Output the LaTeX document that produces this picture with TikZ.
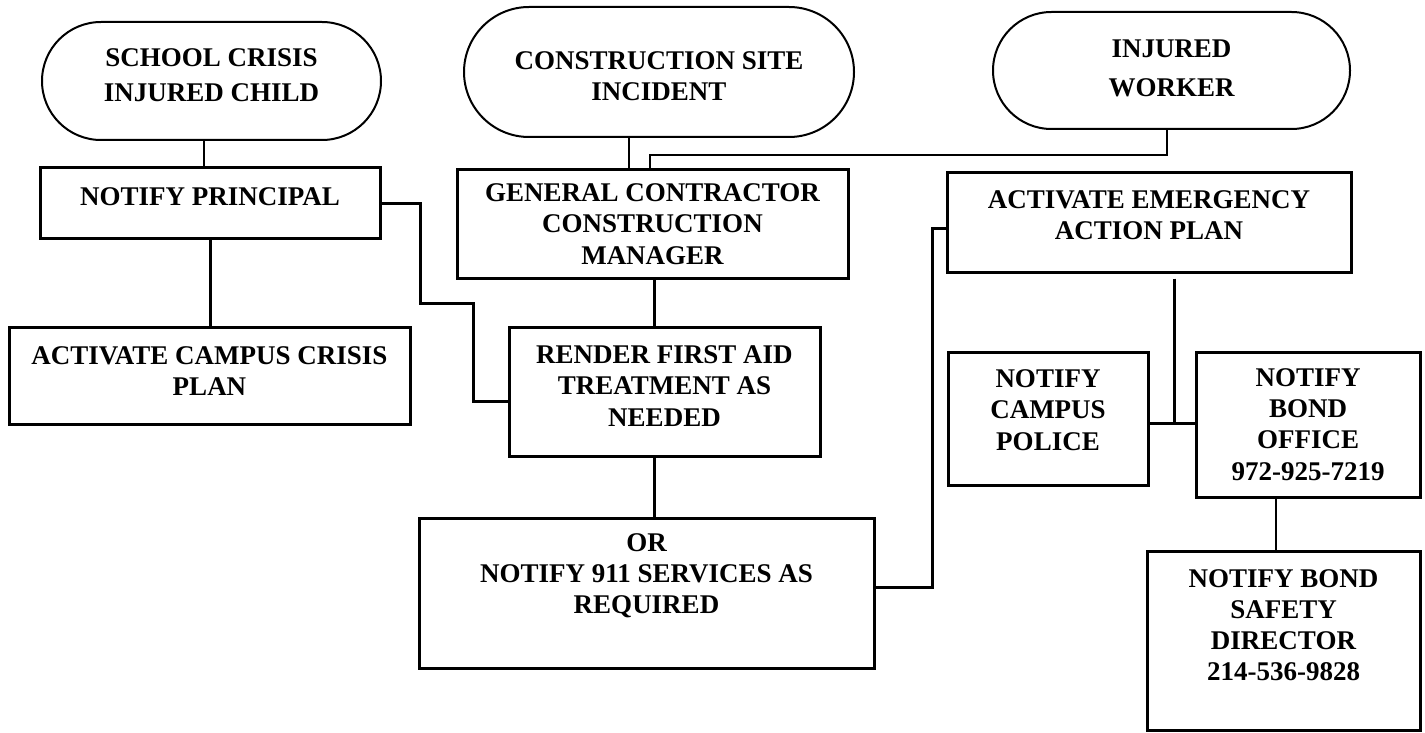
\documentclass[tikz,border=0pt]{standalone}
\usepackage{fontspec}
\setmainfont{Liberation Serif}
\usetikzlibrary{shapes.misc}

\tikzset{
  oval/.style={draw, rounded rectangle, line width=1pt, inner sep=0pt},
  box/.style={draw, rectangle, line width=1.5pt, inner sep=0pt},
  txt/.style={align=center, inner sep=0pt, font=\bfseries\fontsize{13.5}{15.6}\selectfont},
  hair/.style={line width=0.6pt},
  mid/.style={line width=1pt},
  link/.style={line width=1.5pt}
}

\begin{document}
\begin{tikzpicture}[x=0.5pt,y=-0.5pt]
\useasboundingbox (0,0) rectangle (1425,733);

\node [oval, minimum width=169.5pt, minimum height=59pt] (crisis) at (211.5,81) {};
\node [oval, minimum width=195pt, minimum height=65pt] (site) at (659,72) {};
\node [oval, minimum width=178.5pt, minimum height=58.5pt] (worker) at (1171.5,70.5) {};

\node [box, minimum width=170pt, minimum height=35pt] (principal) at (210,203) {};
\node [box, minimum width=195.5pt, minimum height=54pt] (gc) at (652.5,224) {};
\node [box, minimum width=202pt, minimum height=49.5pt] (eap) at (1149,222.5) {};
\node [box, minimum width=200.5pt, minimum height=48.5pt] (plan) at (209.5,375.5) {};
\node [box, minimum width=155.5pt, minimum height=64.5pt] (render) at (664.5,391.5) {};
\node [box, minimum width=227.5pt, minimum height=75pt] (or) at (646.5,593) {};
\node [box, minimum width=100pt, minimum height=66.5pt] (police) at (1048,418.5) {};
\node [box, minimum width=112pt, minimum height=72.5pt] (bond) at (1308,424.5) {};
\node [box, minimum width=136.5pt, minimum height=89.5pt] (safety) at (1283.5,640.5) {};

\node [txt] (crisis-t) at ([yshift=3pt]crisis.center) {SCHOOL CRISIS\\[2pt]INJURED CHILD};
\node [txt] (site-t) at ([yshift=-2pt]site.center) {CONSTRUCTION SITE\\INCIDENT};
\node [txt] (worker-t) at ([yshift=1pt]worker.center) {INJURED\\[4pt]WORKER};
\node [txt] (principal-t) at ([yshift=3pt]principal.center) {NOTIFY PRINCIPAL};
\node [txt] (gc-t) at (gc.center) {GENERAL CONTRACTOR\\CONSTRUCTION\\MANAGER};
\node [txt] (eap-t) at ([yshift=3.75pt]eap.center) {ACTIVATE EMERGENCY\\ACTION PLAN};
\node [txt] (plan-t) at ([yshift=2.25pt]plan.center) {ACTIVATE CAMPUS CRISIS\\PLAN};
\node [txt] (render-t) at ([yshift=2.75pt]render.center) {RENDER FIRST AID\\TREATMENT AS\\NEEDED};
\node [txt] (or-t) at ([yshift=8.5pt]or.center) {OR\\NOTIFY 911 SERVICES AS\\REQUIRED};
\node [txt] (police-t) at ([yshift=4.25pt]police.center) {NOTIFY\\CAMPUS\\POLICE};
\node [txt] (bond-t) at (bond.center) {NOTIFY\\BOND\\OFFICE\\972-925-7219};
\node [txt] (safety-t) at ([yshift=7.75pt]safety.center) {NOTIFY BOND\\SAFETY\\DIRECTOR\\214-536-9828};

\coordinate (jn) at (1174,423);

\draw [hair] ([xshift=-3.75pt]crisis.south) -- ([xshift=-3pt]principal.north);
\draw [hair] ([xshift=-15pt]site.south) -- ([xshift=-11.75pt]gc.north);
\draw [hair] ([xshift=-2.25pt]worker.south) |- (650,155) -- ([xshift=-1.25pt]gc.north);

\draw [link] (principal.south) -- (principal.south |- plan.north);
\draw [link] (principal.east) -- ++(39,0) |- (473,303) |- ([yshift=-4.75pt]render.west);
\draw [link] ([xshift=0.75pt]gc.south) -- ([xshift=-5.25pt]render.north);
\draw [link] ([xshift=-5.25pt]render.south) -- ([xshift=3.75pt]or.north);
\draw [link] ([yshift=3pt]or.east) -| (932,228) -- ([yshift=-2.75pt]eap.west);
\draw [link] ([xshift=12.5pt,yshift=-2.5pt]eap.south) -- (jn);
\draw [link] ([yshift=-2.25pt]police.east) -- ([yshift=0.75pt]bond.west);
\draw [mid] ([xshift=-16pt]bond.south) -- ([xshift=-3.75pt]safety.north);
\end{tikzpicture}
\end{document}
